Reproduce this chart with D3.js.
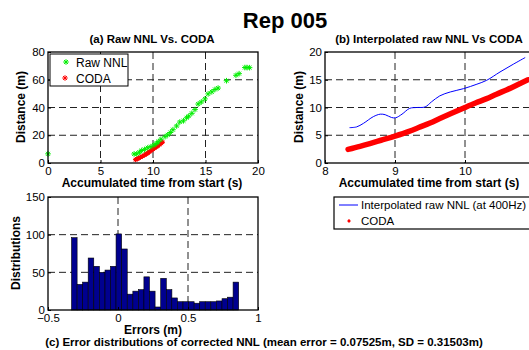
<!DOCTYPE html>
<html>
<head>
<meta charset="utf-8">
<script src="https://cdn.jsdelivr.net/npm/d3@7"></script>
<style>
  body { margin: 0; background: white; }
  svg { display: block; font-family: "Liberation Sans", Arial, sans-serif; }
</style>
</head>
<body>
<div id="chart"></div>
<script>
// Datos
// (a) Raw NNL: tiempo (s) y distancia (m)
const nnlTiempo = [0.0, 8.2, 8.45, 8.7, 8.92, 9.2, 9.5, 9.8, 10.1, 10.35, 10.5, 10.75, 11.15, 11.4, 11.65,
  11.9, 12.25, 12.55, 12.9, 13.2, 13.4, 13.7, 14.0, 14.3, 14.6, 14.95, 15.25, 15.6, 15.9, 16.2,
  17.0, 17.9, 18.2, 18.75, 18.95, 19.2];
const nnlDistancia = [6.6, 6.5, 6.6, 7.8, 9.0, 9.8, 11.0, 11.8, 13.0, 14.2, 15.4, 17.1, 19.0, 20.3, 22.0,
  24.0, 26.7, 29.5, 30.4, 32.6, 33.8, 35.8, 38.5, 42.5, 44.0, 46.2, 49.8, 51.3, 53.0, 54.0,
  59.3, 63.2, 64.4, 68.8, 68.8, 68.7];

// CODA
const codaTiempo = [8.33, 8.5, 8.64, 8.8, 9.0, 9.2, 9.36, 9.5, 9.64, 9.8, 10.0, 10.15, 10.31, 10.45, 10.6, 10.75, 10.9];
const codaDistancia = [2.45, 3.0, 3.5, 4.1, 4.85, 5.7, 6.5, 7.2, 8.0, 8.9, 10.0, 10.8, 11.6, 12.4, 13.2, 14.1, 15.0];

// (b) NNL interpolado a 400Hz
const interpTiempo = [8.35, 8.45, 8.55, 8.69, 8.79, 8.86, 8.95, 9.01, 9.1, 9.21, 9.31, 9.43, 9.52, 9.64,
  9.79, 9.98, 10.17, 10.31, 10.5, 10.69, 10.86];
const interpDistancia = [6.37, 6.5, 7.15, 8.35, 8.8, 8.7, 8.2, 8.15, 8.8, 9.85, 10.0, 10.1, 11.0, 12.1,
  12.8, 13.4, 14.2, 14.9, 16.4, 17.8, 19.0];

// (c) histograma de errores
const binCentros = [-0.312, -0.272, -0.233, -0.193, -0.153, -0.113, -0.073, -0.034, 0.006, 0.046,
  0.086, 0.126, 0.166, 0.205, 0.245, 0.285, 0.325, 0.365, 0.404, 0.444,
  0.484, 0.524, 0.564, 0.603, 0.643, 0.683, 0.723, 0.763, 0.802, 0.842];
const binConteos = [96, 34, 37, 69, 58, 50, 53, 58, 101, 81, 21, 25, 27, 44, 25, 4, 42, 27, 16, 11,
  11, 11, 9, 11, 11, 11, 12, 15, 17, 37];
const anchoBin = 0.0398;

// Ticks
const ticksAX = [0, 5, 10, 15, 20];
const ticksAY = [0, 20, 40, 60, 80];
const ticksBX = [8, 9, 10];
const ticksBY = [0, 5, 10, 15, 20];
const ticksCX = [-0.5, 0, 0.5, 1];
const ticksCY = [0, 50, 100, 150];

const ancho = 529, alto = 350;
const svg = d3.select("#chart").append("svg")
  .attr("width", ancho)
  .attr("height", alto)
  .style("background", "white");

const fuenteTick = "11.5px";
const fuenteLabel = "12px";

// marcador asterisco estilo MATLAB
function asterisco(s) {
  const a = s * 0.7;
  return `M${-s},0L${s},0M0,${-s}L0,${s}M${-a},${-a}L${a},${a}M${-a},${a}L${a},${-a}`;
}

// Panel genérico: ejes, rejilla y caja
function panel(cfg) {
  const x = d3.scaleLinear().domain(cfg.xDom).range([cfg.x0, cfg.x1]);
  const y = d3.scaleLinear().domain(cfg.yDom).range([cfg.y1, cfg.y0]);
  const g = svg.append("g");
  const grid = g.append("g");
  // rejilla discontinua
  grid.selectAll(".gx")
    .data(cfg.ticksX.filter(t => t !== cfg.xDom[0] && t !== cfg.xDom[1]))
    .enter().append("line")
    .attr("x1", d => x(d)).attr("x2", d => x(d))
    .attr("y1", cfg.y0).attr("y2", cfg.y1)
    .attr("stroke", "#222").attr("stroke-width", 1).attr("stroke-dasharray", "7,4");
  grid.selectAll(".gy")
    .data(cfg.ticksY.filter(t => t !== cfg.yDom[0] && t !== cfg.yDom[1]))
    .enter().append("line")
    .attr("x1", cfg.x0).attr("x2", cfg.x1)
    .attr("y1", d => y(d)).attr("y2", d => y(d))
    .attr("stroke", "#222").attr("stroke-width", 1).attr("stroke-dasharray", "7,4");
  const marcas = g.append("g");
  const encima = g.append("g");
  // caja
  encima.append("rect")
    .attr("x", cfg.x0).attr("y", cfg.y0)
    .attr("width", cfg.x1 - cfg.x0).attr("height", cfg.y1 - cfg.y0)
    .attr("fill", "none").attr("stroke", "black").attr("stroke-width", 1.3);
  const ejeX = encima.append("g")
    .attr("transform", `translate(0,${cfg.y1})`)
    .call(d3.axisBottom(x).tickValues(cfg.ticksX).tickSize(-3).tickPadding(4).tickFormat(d3.format("")));
  const ejeY = encima.append("g")
    .attr("transform", `translate(${cfg.x0},0)`)
    .call(d3.axisLeft(y).tickValues(cfg.ticksY).tickSize(-3).tickPadding(3).tickFormat(d3.format("")));
  [ejeX, ejeY].forEach(e => {
    e.select(".domain").remove();
    e.selectAll("line").attr("stroke", "black");
    e.selectAll("text").attr("fill", "black").style("font-size", fuenteTick)
      .style("font-family", "Liberation Sans, Arial, sans-serif");
  });
  return { x, y, marcas, encima };
}

// Título general
svg.append("text")
  .attr("x", 285).attr("y", 28)
  .attr("text-anchor", "middle")
  .style("font-size", "22px").style("font-weight", "bold")
  .text("Rep 005");

// ---------- (a) ----------
const pa = panel({ xDom: [0, 20], yDom: [0, 80], x0: 48, x1: 258, y0: 52, y1: 163, ticksX: ticksAX, ticksY: ticksAY });

const lineaA = d3.line().x(d => pa.x(d[0])).y(d => pa.y(d[1])).curve(d3.curveMonotoneX);
const codaPares = d3.zip(codaTiempo, codaDistancia);
pa.marcas.append("path")
  .attr("d", lineaA(codaPares))
  .attr("fill", "none").attr("stroke", "#ff0000").attr("stroke-width", 4).attr("stroke-linecap", "round");
pa.marcas.selectAll(".coda-a")
  .data(codaPares).enter().append("path")
  .attr("transform", d => `translate(${pa.x(d[0])},${pa.y(d[1])})`)
  .attr("d", asterisco(2.5)).attr("stroke", "#ff0000").attr("stroke-width", 1);

pa.marcas.selectAll(".nnl")
  .data(d3.zip(nnlTiempo, nnlDistancia)).enter().append("path")
  .attr("transform", d => `translate(${pa.x(d[0])},${pa.y(d[1])})`)
  .attr("d", asterisco(2.8)).attr("stroke", "#00ee00").attr("stroke-width", 1);

// leyenda (a)
const legA = pa.encima.append("g");
legA.append("rect").attr("x", 50).attr("y", 54).attr("width", 78).attr("height", 32)
  .attr("fill", "white").attr("stroke", "black").attr("stroke-width", 1);
legA.append("path").attr("transform", "translate(66,62)").attr("d", asterisco(2.8))
  .attr("stroke", "#00ee00").attr("stroke-width", 1);
legA.append("path").attr("transform", "translate(65,78)").attr("d", asterisco(2.8))
  .attr("stroke", "#ff0000").attr("stroke-width", 1);
legA.append("text").attr("x", 76).attr("y", 67).style("font-size", "12px").text("Raw NNL");
legA.append("text").attr("x", 76).attr("y", 83).style("font-size", "12px").text("CODA");

svg.append("text").attr("x", 152).attr("y", 43).attr("text-anchor", "middle")
  .style("font-size", "11.5px").style("font-weight", "bold").text("(a) Raw NNL Vs. CODA");
svg.append("text").attr("x", 152).attr("y", 187).attr("text-anchor", "middle")
  .style("font-size", fuenteLabel).style("font-weight", "bold").text("Accumulated time from start (s)");
svg.append("text").attr("transform", "translate(25,107) rotate(-90)").attr("text-anchor", "middle")
  .style("font-size", fuenteLabel).style("font-weight", "bold").text("Distance (m)");

// ---------- (b) ----------
const pb = panel({ xDom: [8, 11], yDom: [0, 20], x0: 325, x1: 535, y0: 52, y1: 163, ticksX: ticksBX, ticksY: ticksBY });
const lineaB = d3.line().x(d => pb.x(d[0])).y(d => pb.y(d[1])).curve(d3.curveMonotoneX);
pb.marcas.append("path")
  .attr("d", lineaB(codaPares))
  .attr("fill", "none").attr("stroke", "#ff0000").attr("stroke-width", 5.5).attr("stroke-linecap", "round");
pb.marcas.append("path")
  .attr("d", d3.line().x(d => pb.x(d[0])).y(d => pb.y(d[1])).curve(d3.curveCatmullRom)(d3.zip(interpTiempo, interpDistancia)))
  .attr("fill", "none").attr("stroke", "#0000ff").attr("stroke-width", 1);

svg.append("text").attr("x", 429).attr("y", 43).attr("text-anchor", "middle")
  .style("font-size", "11.5px").style("font-weight", "bold").text("(b) Interpolated raw NNL Vs CODA");
svg.append("text").attr("x", 429).attr("y", 187).attr("text-anchor", "middle")
  .style("font-size", fuenteLabel).style("font-weight", "bold").text("Accumulated time from start (s)");
svg.append("text").attr("transform", "translate(303,107) rotate(-90)").attr("text-anchor", "middle")
  .style("font-size", fuenteLabel).style("font-weight", "bold").text("Distance (m)");

// leyenda (b)
const legB = svg.append("g");
legB.append("rect").attr("x", 334).attr("y", 197).attr("width", 210).attr("height", 32)
  .attr("fill", "white").attr("stroke", "black").attr("stroke-width", 1.2);
legB.append("line").attr("x1", 339).attr("x2", 358).attr("y1", 205).attr("y2", 205)
  .attr("stroke", "#0000ff").attr("stroke-width", 1);
legB.append("path").attr("transform", "translate(349,221)").attr("d", asterisco(1.5))
  .attr("stroke", "#ff0000").attr("stroke-width", 1.2);
legB.append("text").attr("x", 361).attr("y", 209).style("font-size", "11.5px").text("Interpolated raw NNL (at 400Hz)");
legB.append("text").attr("x", 361).attr("y", 225).style("font-size", "11.5px").text("CODA");

// ---------- (c) ----------
const pc = panel({ xDom: [-0.5, 1], yDom: [0, 150], x0: 48, x1: 258, y0: 197, y1: 310, ticksX: ticksCX, ticksY: ticksCY });
pc.marcas.selectAll(".barra")
  .data(d3.zip(binCentros, binConteos)).enter().append("rect")
  .attr("class", "barra")
  .attr("x", d => pc.x(d[0] - anchoBin / 2))
  .attr("y", d => pc.y(d[1]))
  .attr("width", d => pc.x(d[0] + anchoBin / 2) - pc.x(d[0] - anchoBin / 2))
  .attr("height", d => pc.y(0) - pc.y(d[1]))
  .attr("fill", "#00008f").attr("stroke", "black").attr("stroke-width", 0.6);

svg.append("text").attr("x", 153).attr("y", 334).attr("text-anchor", "middle")
  .style("font-size", fuenteLabel).style("font-weight", "bold").text("Errors (m)");
svg.append("text").attr("transform", "translate(20,253) rotate(-90)").attr("text-anchor", "middle")
  .style("font-size", fuenteLabel).style("font-weight", "bold").text("Distributions");
svg.append("text").attr("x", 264).attr("y", 346).attr("text-anchor", "middle")
  .style("font-size", "11.5px").style("font-weight", "bold")
  .text("(c) Error distributions of corrected NNL (mean error = 0.07525m, SD = 0.31503m)");
</script>
</body>
</html>
